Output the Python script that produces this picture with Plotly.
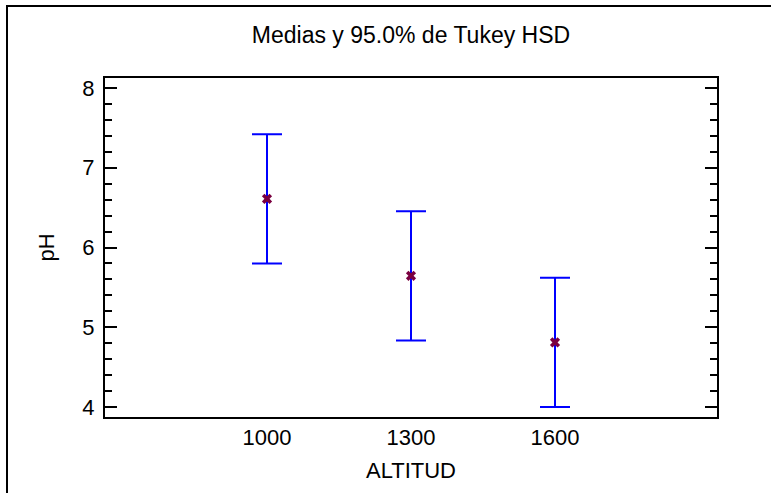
import plotly.graph_objects as go

# Tukey HSD intervals of mean pH by altitude
altitud = [1000, 1300, 1600]
medias = [6.61, 5.645, 4.81]
semiancho = [0.81, 0.81, 0.81]

FONT = "Liberation Sans, Arial, sans-serif"

fig = go.Figure()
fig.add_trace(go.Scatter(
    x=altitud,
    y=medias,
    mode="markers",
    marker=dict(symbol="x", size=9, color="#7a0040", line=dict(width=0)),
    error_y=dict(type="data", array=semiancho, visible=True,
                 color="#0000ff", thickness=2, width=15),
    showlegend=False,
))

W, H = 771, 493
L, R, T, B = 105, 54, 78, 76
pw, ph = W - L - R, H - T - B

def px_x(p):
    return (p - L) / pw

def px_y(p):
    return (H - B - p) / ph

# outer frame of the graphics pane: only its left and top edges fall inside the page
fig.add_shape(type="line", xref="paper", yref="paper",
              x0=px_x(7), x1=px_x(7), y0=px_y(H + 5), y1=px_y(6),
              line=dict(color="black", width=2), layer="below")
fig.add_shape(type="line", xref="paper", yref="paper",
              x0=px_x(6), x1=px_x(W + 5), y0=px_y(6), y1=px_y(6),
              line=dict(color="black", width=2), layer="below")

fig.update_layout(
    width=W, height=H,
    margin=dict(l=L, r=R, t=T, b=B, autoexpand=False),
    paper_bgcolor="white", plot_bgcolor="white",
    font=dict(family=FONT, size=22, color="black"),
    title=dict(text="Medias y 95.0% de Tukey HSD", xref="paper", x=0.5,
               xanchor="center", y=1 - 35 / H, yanchor="middle",
               font=dict(family=FONT, size=23, color="black")),
    xaxis=dict(
        range=[662.5, 1937.5],
        tickvals=altitud, ticktext=[str(a) for a in altitud],
        ticks="", showgrid=False, zeroline=False,
        showline=True, linecolor="black", linewidth=2, mirror=True,
        title=dict(text="ALTITUD", standoff=13, font=dict(size=22)),
        tickfont=dict(size=22),
    ),
    yaxis=dict(
        range=[3.875, 8.125],
        tickvals=[4, 5, 6, 7, 8],
        ticks="inside", ticklen=12, tickwidth=2, tickcolor="black",
        minor=dict(dtick=0.2, ticks="inside", ticklen=7, tickwidth=2,
                   tickcolor="black", showgrid=False),
        showgrid=False, zeroline=False,
        showline=True, linecolor="black", linewidth=2, mirror="ticks",
        ticklabelstandoff=4,
        title=dict(text="pH", standoff=22, font=dict(size=22)),
        tickfont=dict(size=22),
    ),
)

fig.write_html("out.html")
